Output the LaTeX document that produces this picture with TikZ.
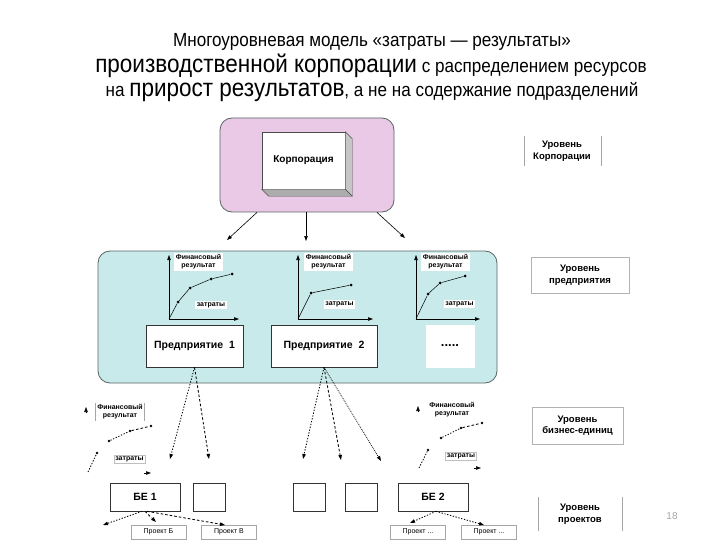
\documentclass[tikz,border=0pt]{standalone}
\usepackage{fontspec}
\setmainfont{Liberation Sans}
\newfontfamily\narrowfont[FakeStretch=0.9]{Liberation Sans}
\usetikzlibrary{arrows.meta,calc}
\definecolor{pinkfill}{RGB}{233,201,230}
\definecolor{tealfill}{RGB}{200,234,234}
\definecolor{zoneline}{RGB}{90,100,100}
\tikzset{
  zone/.style={draw=zoneline, line width=0.8pt, rounded corners=12pt, inner sep=0pt},
  box/.style={draw=black!80, fill=white, line width=0.6pt, inner sep=0pt, font=\bfseries\fontsize{10.5}{12}\selectfont},
  ebox/.style={draw=black!80, fill=white, line width=0.6pt, inner sep=0pt, minimum width=32pt, minimum height=28pt},
  projbox/.style={draw=gray!70, fill=white, line width=0.5pt, inner sep=0pt, minimum width=55pt, minimum height=14pt, font=\fontsize{7}{8}\selectfont},
  lbl/.style={fill=white, inner sep=1.5pt, align=center, font=\bfseries\fontsize{7}{8}\selectfont},
  lvl/.style={inner sep=0pt, align=center, font=\bfseries\fontsize{9.5}{11.5}\selectfont},
  lvlline/.style={draw=gray!70, line width=0.6pt},
  arr/.style={-{Triangle[length=5pt,width=3.5pt]}, line width=0.6pt},
  axis/.style={-{Triangle[length=5pt,width=3.5pt]}, line width=0.6pt},
  pt/.style={circle, fill=black, inner sep=0pt, minimum size=3pt},
  curve/.style={line width=0.5pt},
  dotarr/.style={-{Triangle[length=5pt,width=3.5pt]}, line width=0.85pt, dash pattern=on 1.3pt off 1.6pt},
  dasharr/.style={-{Triangle[length=5pt,width=3.5pt]}, line width=0.85pt, dash pattern=on 2.6pt off 2pt},
  dotln/.style={line width=0.85pt, dash pattern=on 1.3pt off 1.6pt},
  dashln/.style={line width=0.85pt, dash pattern=on 2.6pt off 2pt},
}
\begin{document}
\begin{tikzpicture}[x=1pt,y=-1pt]
\useasboundingbox (0,0) rectangle (720,540);

% Title
\node[anchor=center, font=\narrowfont\fontsize{19}{22}\selectfont] (t1) at (372,42) {Многоуровневая модель «затраты — результаты»};
\node[anchor=center, font=\narrowfont\fontsize{19}{22}\selectfont] (t2) at (371,66) {{\fontsize{25}{27}\selectfont производственной корпорации} с распределением ресурсов};
\node[anchor=center, font=\narrowfont\fontsize{19}{22}\selectfont] (t3) at (372,92) {на {\fontsize{25}{27}\selectfont прирост результатов}, а не на содержание подразделений};

% Corporation zone
\node[zone, fill=pinkfill, minimum width=174pt, minimum height=94pt] (corpzone) at (307,165) {};
\node[draw=gray!60!black, fill=white, line width=0.5pt, minimum width=83pt, minimum height=57pt, inner sep=0pt, font=\bfseries\fontsize{10}{12}\selectfont] (corp) at (303.5,160.5) {Корпорация};
\filldraw[fill=gray!45, draw=gray!60!black, line width=0.4pt] (corp.north east) -- ++(7,7) -- ($(corp.south east)+(7,7)$) -- (corp.south east) -- cycle;
\filldraw[fill=gray!65, draw=gray!60!black, line width=0.4pt] (corp.south west) -- ++(7,7) -- ($(corp.south east)+(7,7)$) -- (corp.south east) -- cycle;

\coordinate (ca1) at (227,240);
\coordinate (ca2) at (306,241);
\coordinate (ca3) at (405,238);
\draw[arr] ([xshift=-50pt]corpzone.south) -- (ca1);
\draw[arr] ([xshift=-1pt]corpzone.south) -- (ca2);
\draw[arr] ([xshift=70pt]corpzone.south) -- (ca3);

% Level labels
\node[lvl] (lv1) at (562,151) {Уровень\\Корпорации};
\draw[lvlline] (524,136) -- (524,166) (601,136) -- (601,166);
\node[lvl, draw=gray!60, line width=0.6pt, minimum width=98pt, minimum height=36pt] (lv2) at (580,275) {Уровень\\предприятия};
\node[lvl, draw=gray!60, line width=0.6pt, minimum width=91pt, minimum height=37pt] (lv3) at (577.5,425.5) {Уровень\\бизнес-единиц};
\node[lvl] (lv4) at (580,514) {Уровень\\проектов};
\draw[lvlline] (538,497) -- (538,531) (622,497) -- (622,531);
\node[text=gray!70, font=\fontsize{10}{12}\selectfont] (pg) at (672,516) {18};

% Enterprise zone
\node[zone, fill=tealfill, minimum width=399pt, minimum height=132pt] (entzone) at (297.5,317) {};

% Chart 1
\coordinate (o1) at (169,319); \coordinate (y1) at (169,255); \coordinate (x1) at (239,319);
\draw[axis] (o1) -- (y1); \draw[axis] (o1) -- (x1);
\node[pt] (p11) at (178,302) {}; \node[pt] (p12) at (190,288) {};
\node[pt] (p13) at (211,279) {}; \node[pt] (p14) at (232,274) {};
\draw[curve] (o1) -- (p11) -- (p12) -- (p13) -- (p14);
\node[lbl] (f1) at (198.5,262) {Финансовый\\результат};
\node[lbl] (z1) at (211,305) {затраты};

% Chart 2
\coordinate (o2) at (298,319); \coordinate (y2) at (298,255); \coordinate (x2) at (373,319);
\draw[axis] (o2) -- (y2); \draw[axis] (o2) -- (x2);
\node[pt] (p21) at (311,293) {}; \node[pt] (p22) at (351,285) {};
\draw[curve] (o2) -- (p21) -- (p22);
\node[lbl] (f2) at (328.5,262) {Финансовый\\результат};
\node[lbl] (z2) at (339.5,304.5) {затраты};

% Chart 3
\coordinate (o3) at (416,319); \coordinate (y3) at (416,255); \coordinate (x3) at (480,319);
\draw[axis] (o3) -- (y3); \draw[axis] (o3) -- (x3);
\node[pt] (p31) at (428,294) {}; \node[pt] (p32) at (440,283) {}; \node[pt] (p33) at (465,276) {};
\draw[curve] (o3) -- (p31) -- (p32) -- (p33);
\node[lbl] (f3) at (445.5,262) {Финансовый\\результат};
\node[lbl] (z3) at (459.5,304) {затраты};

% Enterprises
\node[box, minimum width=97pt, minimum height=42pt] (ent1) at (194.5,346) {Предприятие\ \ 1};
\node[box, minimum width=106pt, minimum height=42pt] (ent2) at (324,346) {Предприятие\ \ 2};
\node[box, draw=white, minimum width=48pt, minimum height=42pt, font=\bfseries\fontsize{13}{14}\selectfont] (ent3) at (450,346) {.....};

% Arrows from enterprises
\coordinate (b1) at (170,459); \coordinate (b2) at (209,459);
\coordinate (b3) at (303,459); \coordinate (b4) at (341,460); \coordinate (b5) at (381,461);
\draw[dotarr] (ent1.south) -- (b1);
\draw[dasharr] (ent1.south) -- (b2);
\draw[dotarr] (ent2.south) -- (b3);
\draw[dasharr] (ent2.south) -- (b4);
\draw[-{Triangle[length=5pt,width=3.5pt]}, line width=0.7pt, dash pattern=on 0.9pt off 1pt] (ent2.south) -- (b5);

% Business units
\node[box, minimum width=70pt, minimum height=28pt] (be1) at (145,497) {БЕ 1};
\node[ebox] (e1) at (209,497) {};
\node[ebox] (e2) at (309,497) {};
\node[ebox] (e3) at (361,497) {};
\node[box, minimum width=70pt, minimum height=28pt] (be2) at (433,497) {БЕ 2};

% Projects
\node[projbox] (pb) at (158.5,532) {Проект Б};
\node[projbox] (pv) at (229,532) {Проект В};
\node[projbox] (pd1) at (418,532) {Проект ...};
\node[projbox] (pd2) at (489,532) {Проект ...};

\coordinate (pa1) at (103,525); \coordinate (pa2) at (156,522); \coordinate (pa3) at (225,525);
\coordinate (pa4) at (410,523); \coordinate (pa5) at (484,525);
\draw[dotarr] ([xshift=-3pt]be1.south) -- (pa1);
\draw[dasharr] (be1.south) -- (pa2);
\draw[dasharr] ([xshift=2pt]be1.south) -- (pa3);
\draw[dotarr] ([xshift=3pt]be2.south) -- (pa4);
\draw[dotarr] ([xshift=3pt]be2.south) -- (pa5);

% Lower-left mini chart
\coordinate (lyb) at (86,413); \coordinate (lyt) at (86,407);
\coordinate (lxb) at (144,473); \coordinate (lxt) at (151,473);
\draw[axis] (lyb) -- (lyt);
\draw[axis] (lxb) -- (lxt);
\node[lbl] (lf) at (120,412) {Финансовый\\результат};
\draw[lvlline, line width=0.5pt] (lf.north west) -- (lf.south west) (lf.north east) -- (lf.south east);
\coordinate (q1) at (88,472);
\node[pt, minimum size=2.8pt] (q2) at (97,453) {};
\node[pt, minimum size=2.8pt] (q3) at (109,441) {};
\node[pt, minimum size=2.8pt] (q4) at (130,431) {};
\node[pt, minimum size=2.8pt] (q5) at (151,426) {};
\draw[dotln] (q1) -- (q2);
\draw[dotln] (q3) -- (q4);
\draw[dashln] (q4) -- (q5);
\node[lbl, draw=gray!50] (lz) at (129.5,459.5) {затраты};

% Lower-right mini chart
\coordinate (ryb) at (418,412); \coordinate (ryt) at (418,406);
\coordinate (rxb) at (474,468); \coordinate (rxt) at (481,468);
\draw[axis] (ryb) -- (ryt);
\draw[axis] (rxb) -- (rxt);
\node[lbl] (rf) at (452,410) {Финансовый\\результат};
\coordinate (r1) at (419,468);
\node[pt, minimum size=2.8pt] (r2) at (428,450) {};
\node[pt, minimum size=2.8pt] (r3) at (441,438) {};
\node[pt, minimum size=2.8pt] (r4) at (461,428) {};
\node[pt, minimum size=2.8pt] (r5) at (482,423) {};
\draw[dotln] (r1) -- (r2);
\draw[dotln] (r3) -- (r4);
\draw[dashln] (r4) -- (r5);
\node[lbl, draw=gray!50] (rz) at (461,456.5) {затраты};
\end{tikzpicture}
\end{document}
